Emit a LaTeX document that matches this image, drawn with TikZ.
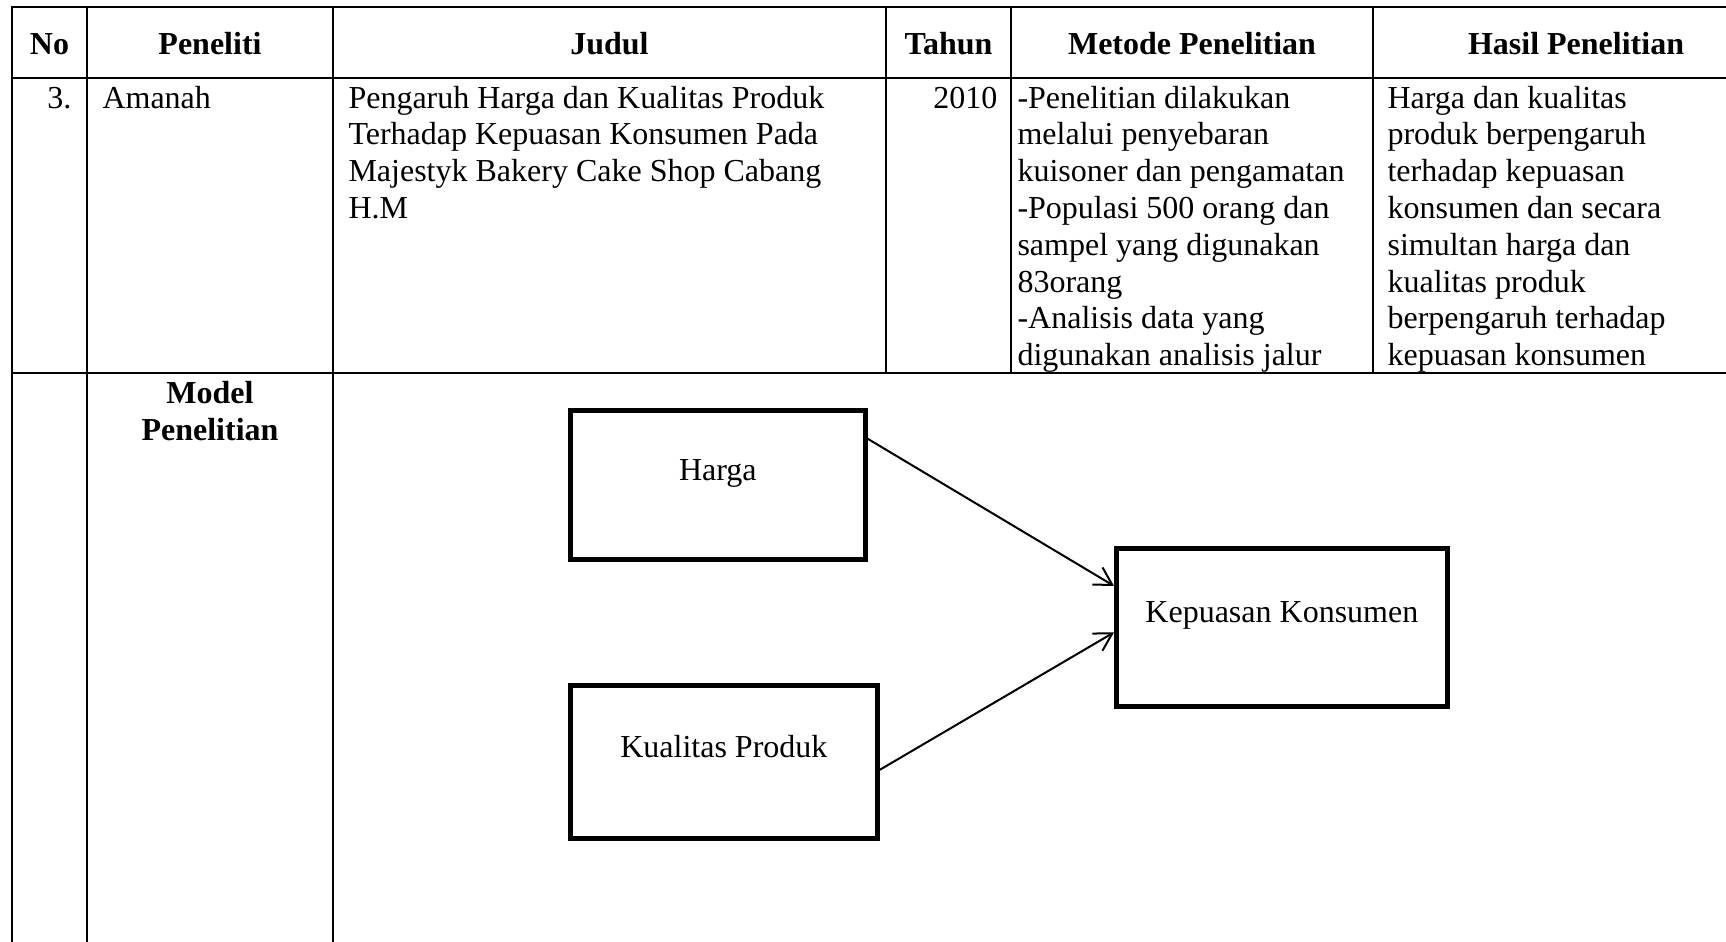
\documentclass[tikz,border=0pt]{standalone}
\usepackage{fontspec}
\setmainfont{Liberation Serif}
\usetikzlibrary{arrows.meta,calc}
\begin{document}
\begin{tikzpicture}[x=0.375pt,y=-0.375pt,
  grid/.style={line width=1pt, line cap=rect},
  cell/.style={inner sep=0pt, font=\fontsize{12pt}{13.8pt}\selectfont},
  head/.style={cell, font=\fontsize{12pt}{13.8pt}\selectfont\bfseries},
  varbox/.style={draw, line width=1.8pt, inner sep=0pt, align=center,
    font=\fontsize{12pt}{13.8pt}\selectfont},
  link/.style={line width=0.75pt, -{Straight Barb[length=6.5pt,width=7.5pt]}}]

\useasboundingbox (0,0) rectangle (1726,941);

% table rules
\draw[grid] (12,7) -- (1740,7);
\draw[grid] (12,78) -- (1740,78);
\draw[grid] (12,373) -- (1740,373);
\foreach \x in {12,87,333} \draw[grid] (\x,7) -- (\x,950);
\foreach \x in {886,1011,1373} \draw[grid] (\x,7) -- (\x,373);

% header row
\node[head, anchor=base] (hNo)  at (49.5,54)  {No};
\node[head, anchor=base] (hPen) at (210,54)   {Peneliti};
\node[head, anchor=base] (hJud) at (609.5,54) {Judul};
\node[head, anchor=base] (hTah) at (948.5,54) {Tahun};
\node[head, anchor=base] (hMet) at (1192,54)  {Metode Penelitian};
\node[head, anchor=base] (hHas) at (1576,54)  {Hasil Penelitian};

% entry row
\node[cell, anchor=base east] (no)  at (72,108)  {3.};
\node[cell, anchor=base west] (pen) at (102,108) {Amanah};
\node[cell, anchor=base east] (thn) at (998,108) {2010};

\foreach \t [count=\i from 0] in {
  Pengaruh Harga dan Kualitas Produk,
  Terhadap Kepuasan Konsumen Pada,
  Majestyk Bakery Cake Shop Cabang,
  H.M}
  \node[cell, anchor=base west] (jud\i) at (348,{108+36.8*\i}) {\t};

\foreach \t [count=\i from 0] in {
  -Penelitian dilakukan,
  melalui penyebaran,
  kuisoner dan pengamatan,
  -Populasi 500 orang dan,
  sampel yang digunakan,
  83orang,
  -Analisis data yang,
  digunakan analisis jalur}
  \node[cell, anchor=base west] (met\i) at (1017,{108+36.8*\i}) {\t};

\foreach \t [count=\i from 0] in {
  Harga dan kualitas,
  produk berpengaruh,
  terhadap kepuasan,
  konsumen dan secara,
  simultan harga dan,
  kualitas produk,
  berpengaruh terhadap,
  kepuasan konsumen}
  \node[cell, anchor=base west] (has\i) at (1387,{108+36.8*\i}) {\t};

% model row
\node[head, anchor=base] (mod1) at (210,403) {Model};
\node[head, anchor=base] (mod2) at (210,440) {Penelitian};

% research model
\node[varbox, anchor=north west, minimum width=110.6pt, minimum height=55.9pt,
  text height=26.2pt, text depth=29.7pt] (harga) at (568,408) {Harga};
\node[varbox, anchor=north west, minimum width=115.1pt, minimum height=57.4pt,
  text height=26.9pt, text depth=30.5pt] (kual) at (568,683) {Kualitas Produk};
\node[varbox, anchor=north west, minimum width=124.1pt, minimum height=59.3pt,
  text height=27.7pt, text depth=31.6pt] (kep) at (1114,546) {Kepuasan Konsumen};

\draw[link] ($(harga.north east)!0.2!(harga.south east)$)
  -- ($(kep.north west)!0.245!(kep.south west)$);
\draw[link] ($(kual.north east)!0.55!(kual.south east)$)
  -- ($(kep.north west)!0.53!(kep.south west)$);
\end{tikzpicture}
\end{document}
